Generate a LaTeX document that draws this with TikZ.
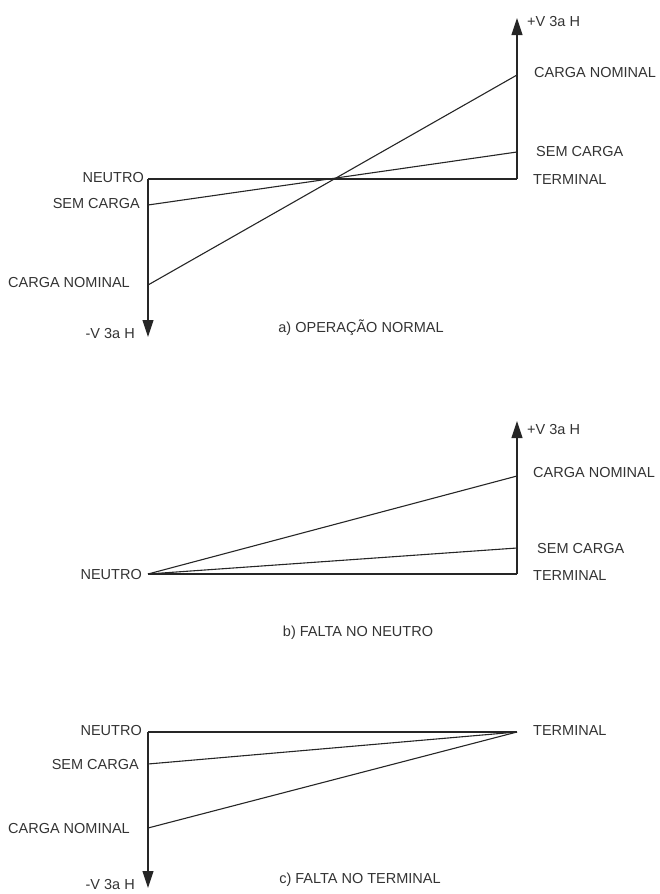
\documentclass[tikz,border=0pt]{standalone}
\usepackage{fontspec}
\setmainfont{Liberation Sans}
\usetikzlibrary{arrows.meta}
\begin{document}
\begin{tikzpicture}[x=1pt,y=-1pt,
  wire/.style={line width=1.1pt, black!85},
  axis/.style={wire, -{Triangle[width=11pt,length=17pt]}},
  lbl/.style={inner sep=0pt, font=\fontsize{14.5}{16}\selectfont, text=black!80},
  lblL/.style={lbl, anchor=east},
  lblR/.style={lbl, anchor=west},
  captext/.style={lbl, anchor=center}]
\useasboundingbox (0,0) rectangle (659,894);
% ---------- a) ----------
\coordinate (aN) at (148,179);
\coordinate (aT) at (517,179);
\coordinate (aBot) at (148,337);
\coordinate (aTop) at (517,18);
\coordinate (aSL) at (148,205);
\coordinate (aCL) at (148,285);
\coordinate (aSR) at (517,152);
\coordinate (aCR) at (517,75);
\draw[wire] (aN) -- (aT);
\draw[axis] (aN) -- (aBot);
\draw[axis] (aT) -- (aTop);
\draw[wire] (aSL) -- (aSR);
\draw[wire] (aCL) -- (aCR);
\node[lblR] (aVp) at (527,22) {+V 3a H};
\node[lblR] (aCNr) at (534,73) {CARGA NOMINAL};
\node[lblR] (aSCr) at (536,152) {SEM CARGA};
\node[lblR] (aTr) at (533,180) {TERMINAL};
\node[lblL] (aNl) at (144,178) {NEUTRO};
\node[lblL] (aSCl) at (140,204) {SEM CARGA};
\node[lblL] (aCNl) at (130,283) {CARGA NOMINAL};
\node[lblL] (aVm) at (135,334) {-V 3a H};
\node[captext] (aCap) at (361,328) {a) OPERAÇÃO NORMAL};
% ---------- b) ----------
\coordinate (bN) at (148,574);
\coordinate (bT) at (517,574);
\coordinate (bTop) at (517,421);
\coordinate (bSR) at (517,548);
\coordinate (bCR) at (517,476);
\draw[wire] (bN) -- (bT);
\draw[axis] (bT) -- (bTop);
\draw[wire] (bN) -- (bSR);
\draw[wire] (bN) -- (bCR);
\node[lblR] (bVp) at (527,430) {+V 3a H};
\node[lblR] (bCNr) at (533,473) {CARGA NOMINAL};
\node[lblR] (bSCr) at (537,549) {SEM CARGA};
\node[lblR] (bTr) at (533,576) {TERMINAL};
\node[lblL] (bNl) at (142,575) {NEUTRO};
\node[captext] (bCap) at (358,633) {b) FALTA NO NEUTRO};
% ---------- c) ----------
\coordinate (cN) at (148,732);
\coordinate (cT) at (517,732);
\coordinate (cBot) at (148,888);
\coordinate (cSL) at (148,764);
\coordinate (cCL) at (148,828);
\draw[wire] (cN) -- (cT);
\draw[axis] (cN) -- (cBot);
\draw[wire] (cSL) -- (cT);
\draw[wire] (cCL) -- (cT);
\node[lblR] (cTr) at (533,731) {TERMINAL};
\node[lblL] (cNl) at (142,730) {NEUTRO};
\node[lblL] (cSCl) at (139,764) {SEM CARGA};
\node[lblL] (cCNl) at (130,828) {CARGA NOMINAL};
\node[lblL] (cVm) at (135,884) {-V 3a H};
\node[captext] (cCap) at (360,880) {c) FALTA NO TERMINAL};
\end{tikzpicture}
\end{document}
